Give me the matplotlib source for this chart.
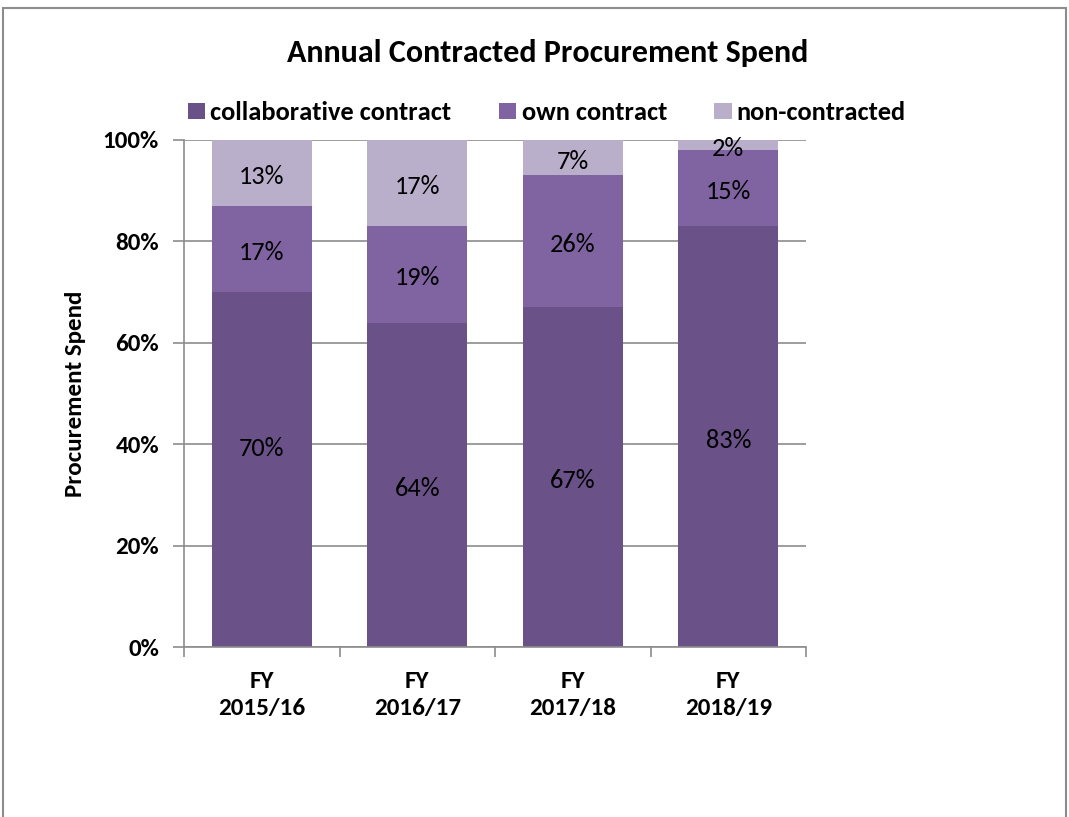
import numpy as np
import matplotlib.pyplot as plt
from matplotlib.patches import Rectangle

# 数据
years = ['FY\n2015/16', 'FY\n2016/17', 'FY\n2017/18', 'FY\n2018/19']
collaborative = [70, 64, 67, 83]
own = [17, 19, 26, 15]
non_contracted = [13, 17, 7, 2]
series_names = ['collaborative contract', 'own contract', 'non-contracted']
colors = ['#6A5188', '#8064A2', '#B9AFCA']

plt.rcParams['font.family'] = ['Carlito', 'DejaVu Sans']

fig = plt.figure(figsize=(10.69, 8.17), dpi=100)
ax = fig.add_axes([184 / 1069, 1 - 647 / 817, 622 / 1069, 507 / 817])

x = np.arange(len(years))
bottom = np.zeros(len(years))
for k, (vals, name, c) in enumerate(zip([collaborative, own, non_contracted], series_names, colors)):
    vals = np.array(vals, dtype=float)
    ax.bar(x, vals, 0.64, bottom=bottom, color=c, label=name, zorder=2)
    for xi, b, v in zip(x, bottom, vals):
        y = b + v / 2 - 0.7
        # 第一个标签在原图中被手动上移
        if k == 0 and xi == 0:
            y = 39.2
        ax.text(xi, y, f'{int(v)}%', ha='center', va='center', fontsize=19, zorder=3)
    bottom += vals

ax.set_xlim(-0.5, len(years) - 0.5)
ax.set_ylim(0, 100)
ax.set_yticks(np.arange(0, 101, 20))
ax.set_yticklabels([f'{v}%' for v in range(0, 101, 20)], fontweight='bold', fontsize=18)
ax.yaxis.grid(True, color='#8c8c8c', linewidth=1.2, zorder=0)
ax.set_axisbelow(True)

# x 轴刻度在类别之间
ax.set_xticks(np.arange(-0.5, len(years), 1.0))
ax.set_xticklabels([])
ax.set_xticks(x, minor=True)
ax.set_xticklabels(years, minor=True, fontweight='bold', fontsize=18, linespacing=1.4)
ax.tick_params(axis='x', which='minor', length=0, pad=17)
ax.tick_params(axis='x', which='major', length=7, color='#8c8c8c', width=1.2)
ax.tick_params(axis='y', length=8, color='#8c8c8c', width=1.2, pad=10)

for s in ['top', 'right']:
    ax.spines[s].set_visible(False)
for s in ['left', 'bottom']:
    ax.spines[s].set_color('#8c8c8c')
    ax.spines[s].set_linewidth(1.2)

ax.set_ylabel('Procurement Spend', fontweight='bold', fontsize=18, labelpad=12)

fig.text(548 / 1069, 1 - 53 / 817, 'Annual Contracted Procurement Spend',
         ha='center', va='center', fontsize=23, fontweight='bold')

fig.legend(loc='center', bbox_to_anchor=(547 / 1069, 1 - 113 / 817), ncol=3, frameon=False,
           prop={'weight': 'bold', 'size': 19}, handlelength=0.65, handleheight=0.55,
           handletextpad=0.2, columnspacing=1.8)

# 外边框
fig.patches.append(Rectangle((3 / 1069, -0.1), 1063 / 1069, 1.1 - 8 / 817, transform=fig.transFigure,
                             fill=False, edgecolor='#8c8c8c', linewidth=1.5, clip_on=False))

fig.savefig('out.png', dpi=100)
